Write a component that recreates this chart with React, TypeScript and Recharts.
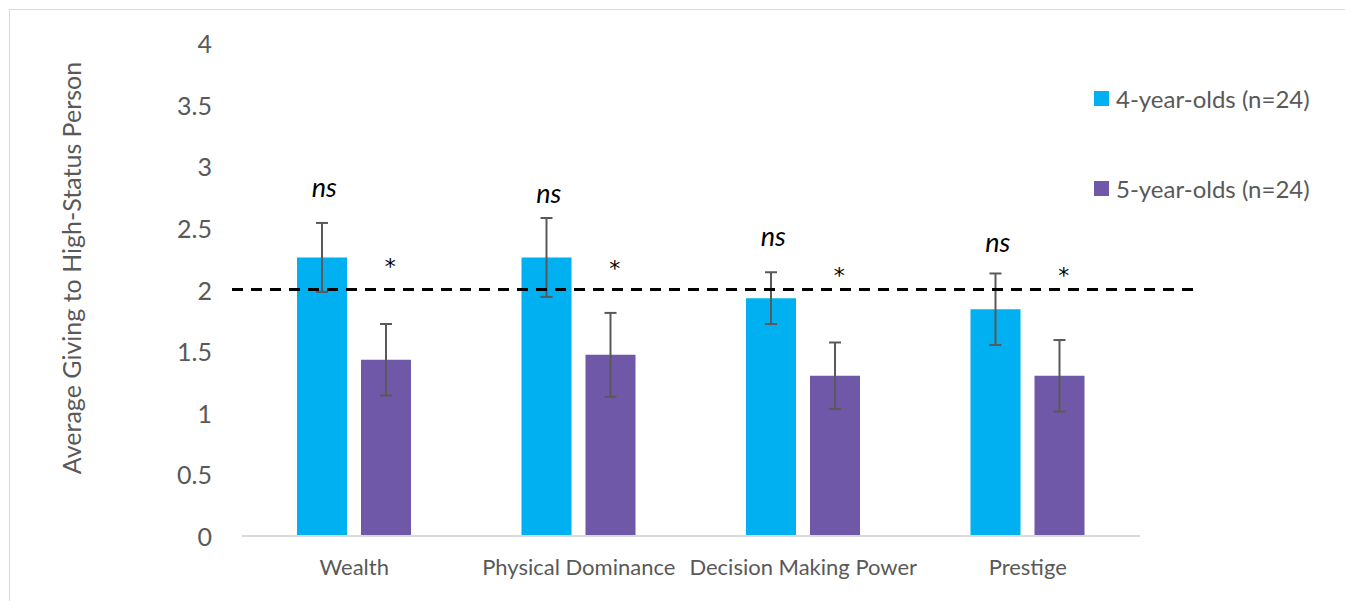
import { ComposedChart, Bar, XAxis, YAxis, ErrorBar, ReferenceLine, Legend, Scatter, Label } from 'recharts';

const categories = ['Wealth', 'Physical Dominance', 'Decision Making Power', 'Prestige'];
const fourYearMeans = [2.26, 2.26, 1.93, 1.84];
const fourYearErrors = [0.28, 0.32, 0.21, 0.29];
const fiveYearMeans = [1.43, 1.47, 1.3, 1.3];
const fiveYearErrors = [0.29, 0.34, 0.27, 0.29];
// where the significance marks sit (value units)
const nsMarkY = [2.81, 2.76, 2.41, 2.36];
const starMarkY = [2.22, 2.21, 2.15, 2.15];
const yTicks = [0, 0.5, 1, 1.5, 2, 2.5, 3, 3.5, 4];
const chanceLevel = 2;
const seriesNames = ['4-year-olds (n=24)', '5-year-olds (n=24)'];
const seriesColors = ['#00B0F0', '#6F58A7'];

const FONT = 'Lato, "Open Sans", sans-serif';
const TEXT = '#595959';

const data = categories.map((name, i) => ({
  name,
  four: fourYearMeans[i],
  fourErr: fourYearErrors[i],
  five: fiveYearMeans[i],
  fiveErr: fiveYearErrors[i],
  ns: nsMarkY[i],
  star: starMarkY[i],
}));

function YTick({ y, payload }: any) {
  return (
    <text x={212} y={y} textAnchor="end" dominantBaseline="central" fill={TEXT} fontSize={25} fontFamily={FONT}>
      {payload.value}
    </text>
  );
}

function XTick({ x, payload }: any) {
  return (
    <text x={x} y={575} textAnchor="middle" fill={TEXT} fontSize={22} fontFamily={FONT}>
      {payload.value}
    </text>
  );
}

function NsMark({ cx, cy }: any) {
  return (
    <text x={cx - 30} y={cy + 7} textAnchor="middle" fill="#000" fontSize={27} fontStyle="italic" fontFamily={FONT}>
      ns
    </text>
  );
}

function StarMark({ cx, cy }: any) {
  return (
    <text x={cx + 36} y={cy + 12} textAnchor="middle" fill="#000" fontSize={22} fontFamily='"DejaVu Sans", sans-serif'>
      *
    </text>
  );
}

function ChanceLine(props: any) {
  const { x1, x2, y1 } = props;
  return <line x1={x1 - 10} x2={x2 + 60} y1={y1} y2={y1} stroke="#000" strokeWidth={3} strokeDasharray="11 8" />;
}

function LegendBox() {
  return (
    <div style={{ fontFamily: FONT, fontSize: 24, color: TEXT }}>
      {seriesNames.map((name, i) => (
        <div key={name} style={{ display: 'flex', alignItems: 'center', height: 30, marginBottom: i === 0 ? 60 : 0 }}>
          <span
            style={{ display: 'inline-block', flexShrink: 0, width: 15, height: 15, background: seriesColors[i], marginRight: 7 }}
          />
          <span style={{ whiteSpace: 'nowrap' }}>{name}</span>
        </div>
      ))}
    </div>
  );
}

export default function App() {
  return (
    <div style={{ position: 'absolute', left: 0, top: 0, width: 1345, height: 601, background: '#fff', overflow: 'hidden' }}>
      <div
        style={{
          position: 'absolute',
          left: 9,
          top: 9,
          width: 1400,
          height: 700,
          borderTop: '1px solid #d9d9d9',
          borderLeft: '1px solid #d9d9d9',
        }}
      />
      <div style={{ position: 'absolute', left: 0, top: 0 }}>
        <ComposedChart
          width={1345}
          height={601}
          data={data}
          margin={{ top: 43, right: 0, bottom: 25, left: 0 }}
          barSize={50}
          barGap={14}
        >
          <XAxis
            dataKey="name"
            height={40}
            tickLine={false}
            axisLine={{ stroke: '#d9d9d9', strokeWidth: 2 }}
            tick={<XTick />}
            interval={0}
          />
          <YAxis
            width={242}
            domain={[0, 4]}
            ticks={yTicks}
            axisLine={false}
            tickLine={false}
            tick={<YTick />}
          >
            <Label
              content={() => (
                <text
                  x={81}
                  y={268}
                  transform="rotate(-90 81 268)"
                  textAnchor="middle"
                  fill={TEXT}
                  fontSize={25}
                  fontFamily={FONT}
                >
                  Average Giving to High-Status Person
                </text>
              )}
            />
          </YAxis>
          <Legend
            layout="vertical"
            align="right"
            verticalAlign="top"
            content={<LegendBox />}
            wrapperStyle={{ top: 83, left: 1094, right: 'auto', width: 205, boxSizing: 'border-box' }}
          />
          <Bar dataKey="four" name={seriesNames[0]} fill={seriesColors[0]} isAnimationActive={false}>
            <ErrorBar dataKey="fourErr" width={6} stroke="#595959" strokeWidth={2} />
          </Bar>
          <Bar dataKey="five" name={seriesNames[1]} fill={seriesColors[1]} isAnimationActive={false}>
            <ErrorBar dataKey="fiveErr" width={6} stroke="#595959" strokeWidth={2} />
          </Bar>
          <ReferenceLine y={chanceLevel} ifOverflow="visible" shape={<ChanceLine />} />
          <Scatter dataKey="ns" shape={<NsMark />} isAnimationActive={false} legendType="none" />
          <Scatter dataKey="star" shape={<StarMark />} isAnimationActive={false} legendType="none" />
        </ComposedChart>
      </div>
    </div>
  );
}
